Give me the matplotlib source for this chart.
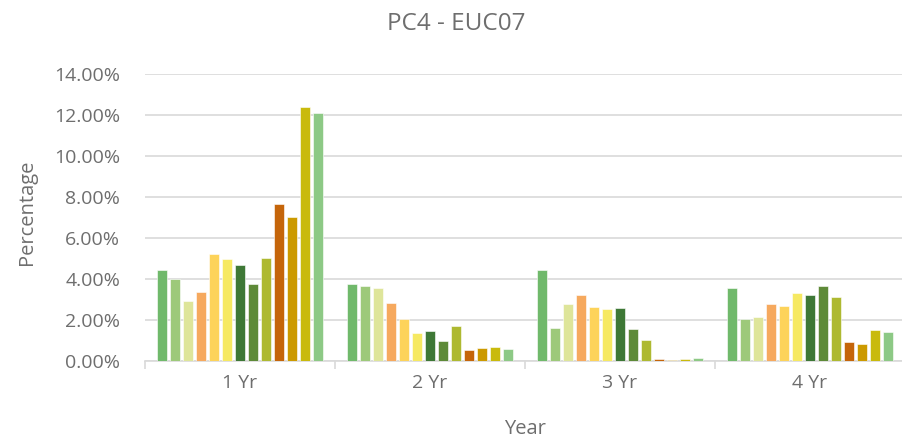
import numpy as np
import matplotlib
matplotlib.use("Agg")
import matplotlib.pyplot as plt
from matplotlib.ticker import FuncFormatter, FixedLocator

plt.rcParams['font.family'] = ['Open Sans', 'DejaVu Sans']

years = ["1 Yr", "2 Yr", "3 Yr", "4 Yr"]

# thirteen series per year, values in percent
values = [
    [4.42, 4.00, 2.93, 3.37, 5.20, 4.96, 4.67, 3.77, 5.02, 7.66, 7.02, 12.41, 12.08],
    [3.74, 3.64, 3.55, 2.85, 2.05, 1.37, 1.46, 0.96, 1.69, 0.54, 0.63, 0.68, 0.59],
    [4.44, 1.63, 2.78, 3.22, 2.63, 2.52, 2.59, 1.56, 1.02, 0.10, 0.05, 0.08, 0.16],
    [3.55, 2.05, 2.15, 2.76, 2.66, 3.32, 3.22, 3.66, 3.10, 0.94, 0.81, 1.51, 1.43],
]

colors = ["#70B96B", "#9DC97A", "#DEE59A", "#F6A95E", "#FDD35A", "#F6E962",
          "#3E7836", "#5E8A38", "#AEB931", "#C5650A", "#CC9A00", "#C9BA0C",
          "#8DC985"]

text_color = "#6E6E6E"
data = np.array(values) / 100.0
n_groups, n_series = data.shape

fig = plt.figure(figsize=(9.02, 4.45), dpi=100)
ax = fig.add_axes([145 / 902, 1 - 361 / 445, 760 / 902, (361 - 74) / 445])

pitch = 0.0684
width = 0.055
x = np.arange(n_groups)
for i in range(n_series):
    offs = (i - (n_series - 1) / 2) * pitch
    ax.bar(x + offs, data[:, i], width=width, color=colors[i],
           edgecolor="white", linewidth=0.4, zorder=3)

ax.set_xlim(-0.5, n_groups - 0.5)
ax.set_ylim(0, 0.14)
ax.set_yticks(np.arange(0, 0.1401, 0.02))
ax.yaxis.set_major_formatter(FuncFormatter(lambda v, p: f"{v*100:.2f}%"))
ax.grid(axis="y", color="#D9D9D9", linewidth=1.2, zorder=0)

ax.set_xticks(x)
ax.set_xticklabels(years)
ax.xaxis.set_minor_locator(FixedLocator(np.arange(-0.5, n_groups, 1.0)))
ax.tick_params(axis="x", which="major", length=0, pad=9, labelsize=14,
               labelcolor=text_color)
ax.tick_params(axis="x", which="minor", length=6, color="#D9D9D9", width=1.2)
ax.tick_params(axis="y", length=0, pad=18, labelsize=14, labelcolor=text_color)

for side in ["top", "right", "left"]:
    ax.spines[side].set_visible(False)
ax.spines["bottom"].set_color("#D9D9D9")
ax.spines["bottom"].set_linewidth(1.2)

fig.text(525 / 902, 1 - 429 / 445, "Year", ha="center", va="center",
         fontsize=14.5, color=text_color)
fig.text(27 / 902, 1 - 212 / 445, "Percentage", ha="center", va="center",
         rotation=90, fontsize=14.5, color=text_color)
fig.text(456 / 902, 1 - 24 / 445, "PC4 - EUC07", ha="center", va="center",
         fontsize=17.5, color=text_color)

fig.savefig("out.png", dpi=100)
